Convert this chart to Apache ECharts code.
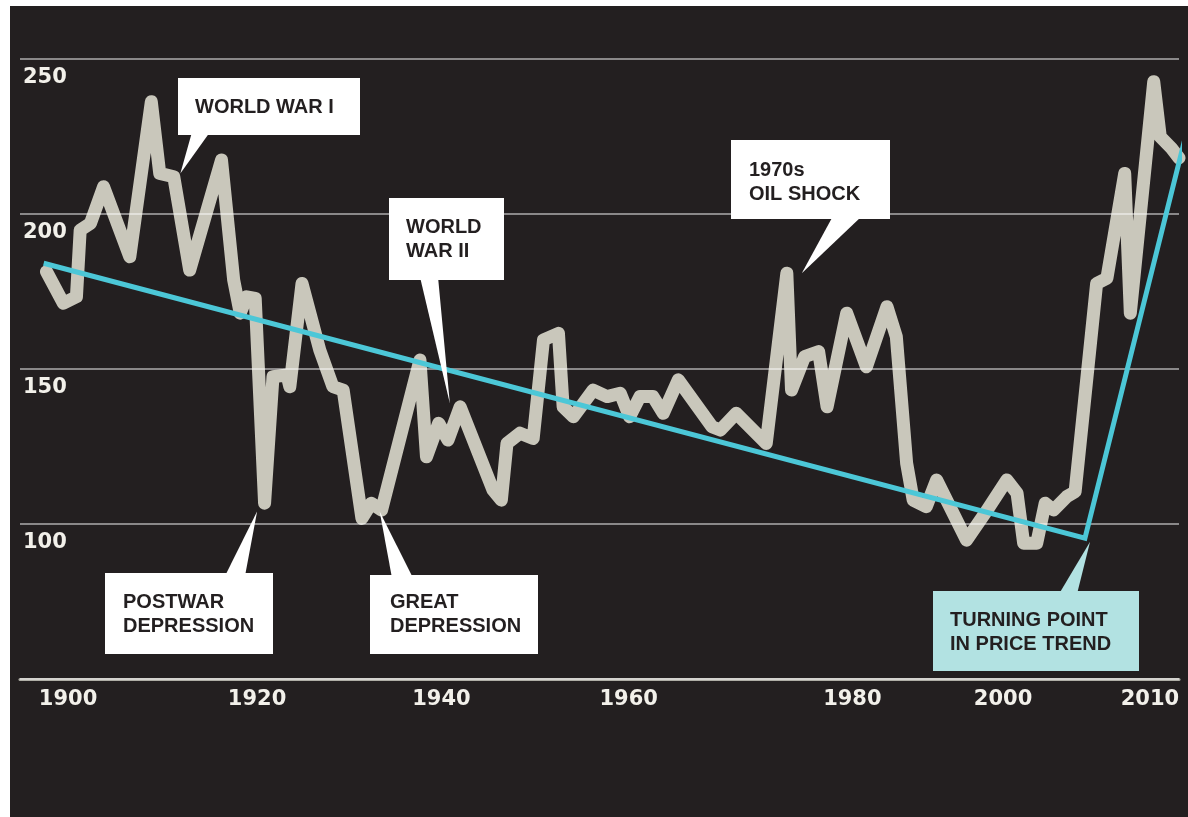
<!DOCTYPE html>
<html>
<head>
<meta charset="utf-8">
<script src="https://cdn.jsdelivr.net/npm/echarts@6/dist/echarts.min.js"></script>
<style>
  html, body { margin: 0; padding: 0; background: #ffffff; }
  #bg { position: absolute; left: 10px; top: 6px; right: 0; bottom: 0; background: #231f20; }
  #chart { position: absolute; left: 0; top: 0; width: 1188px; height: 817px; }
</style>
</head>
<body>
<div id="bg"></div>
<div id="chart"></div>
<script>
// ---- data ----
const years = [1897.7, 1899.5, 1900.9, 1901.3, 1902.4, 1903.8, 1906.6, 1908.9, 1909.8, 1911.3,
  1913.0, 1916.4, 1917.7, 1918.4, 1919.1, 1920.0, 1921.0, 1921.9, 1923.4, 1923.7,
  1925.0, 1926.9, 1928.3, 1929.4, 1931.4, 1932.4, 1933.5, 1937.6, 1938.3, 1939.6,
  1940.6, 1941.9, 1945.4, 1946.3, 1946.9, 1948.3, 1949.7, 1950.8, 1952.4, 1952.9,
  1954.0, 1956.1, 1957.6, 1959.0, 1960.0, 1961.1, 1962.5, 1963.6, 1965.2, 1968.8,
  1969.7, 1971.4, 1974.6, 1976.8, 1977.3, 1978.7, 1980.2, 1981.1, 1983.2, 1985.3,
  1987.5, 1988.5, 1989.6, 1990.3, 1991.7, 1992.8, 1996.0, 1998.2, 2000.3, 2001.4,
  2002.1, 2003.5, 2004.4, 2005.3, 2006.7, 2007.6, 2008.8, 2009.9, 2011.0, 2012.9,
  2013.5, 2016.0, 2016.7, 2017.9, 2018.7];
const prices = [181.4, 171.2, 173.3, 194.8, 197.0, 208.8, 186.2, 236.2, 213.1, 212.0,
  181.9, 217.4, 178.7, 168.0, 173.3, 172.8, 106.7, 147.5, 148.1, 144.3,
  177.6, 156.1, 144.3, 143.2, 101.8, 106.7, 104.5, 152.9, 121.7, 132.5,
  127.1, 137.8, 111.0, 107.7, 126.0, 129.3, 127.6, 159.4, 161.5, 137.8,
  134.6, 143.2, 141.1, 142.2, 134.6, 141.1, 141.1, 135.7, 146.5, 131.4,
  130.3, 135.7, 126.0, 180.9, 143.2, 154.0, 155.6, 137.8, 168.0, 150.7,
  170.1, 160.4, 119.6, 107.7, 105.6, 114.2, 94.8, 104.5, 114.2, 109.9,
  93.8, 93.8, 106.7, 104.5, 108.8, 110.4, 145.4, 177.6, 179.3, 213.1,
  168.0, 242.7, 224.9, 221.2, 218.1];
const trendYears = [1897.4, 2008.65, 2019.7];
const trendValues = [184.1, 95.4, 228.7];
const xTickLabels = ['1900', '1920', '1940', '1960', '1980', '2000', '2010'];
const xTickPositions = [1900, 1920.2, 1939.9, 1959.9, 1983.8, 1999.9, 2015.6];
const calloutTexts = ['WORLD WAR I', 'WORLD\nWAR II', '1970s\nOIL SHOCK', 'POSTWAR\nDEPRESSION', 'GREAT\nDEPRESSION', 'TURNING POINT\nIN PRICE TREND'];
const calloutAnchorYears = [1912.0, 1940.8, 1978.4, 1920.2, 1933.3, 2009.2];
const calloutAnchorValues = [213.1, 138.9, 180.9, 104.0, 104.0, 94.3];

// ---- layout / style of the callouts (pixels) ----
const calloutLayout = [
  { x: 178, y: 78,  w: 182, h: 57, base: [192, 210],   edgeY: 135, tx: 195, ty: 95,  fill: '#ffffff' },
  { x: 389, y: 198, w: 115, h: 82, base: [420, 438],   edgeY: 280, tx: 406, ty: 215, fill: '#ffffff' },
  { x: 731, y: 140, w: 159, h: 79, base: [833, 862],   edgeY: 219, tx: 749, ty: 158, fill: '#ffffff' },
  { x: 105, y: 573, w: 168, h: 81, base: [225, 245],   edgeY: 573, tx: 123, ty: 590, fill: '#ffffff' },
  { x: 370, y: 575, w: 168, h: 79, base: [392, 413],   edgeY: 575, tx: 390, ty: 590, fill: '#ffffff' },
  { x: 933, y: 591, w: 206, h: 80, base: [1059, 1077], edgeY: 591, tx: 950, ty: 608, fill: '#b2e2e2' }
];

const chart = echarts.init(document.getElementById('chart'), null, { renderer: 'canvas' });

const labelFont = { fontFamily: '"DejaVu Sans", sans-serif', fontWeight: 'bold', fontSize: 21, color: '#f2f0ea' };

chart.setOption({
  backgroundColor: 'transparent',
  animation: false,
  grid: { left: 20, right: 9, top: 59, bottom: 138, containLabel: false },
  xAxis: {
    type: 'value',
    min: 1894.87,
    max: 2018.7,
    axisLine: { show: true, lineStyle: { color: '#aeada5', width: 3 } },
    axisTick: { show: false },
    splitLine: { show: false },
    axisLabel: Object.assign({}, labelFont, {
      margin: 10,
      lineHeight: 21,
      customValues: xTickPositions,
      formatter: function (v) {
        let best = 0, bd = Infinity;
        xTickPositions.forEach(function (p, i) { const d = Math.abs(p - v); if (d < bd) { bd = d; best = i; } });
        return xTickLabels[best];
      }
    })
  },
  yAxis: {
    type: 'value',
    min: 50,
    max: 250,
    interval: 50,
    z: 3,
    axisLine: { show: false },
    axisTick: { show: false },
    splitLine: { show: true, lineStyle: { color: 'rgba(255,255,255,0.47)', width: 2 } },
    axisLabel: Object.assign({}, labelFont, {
      inside: true,
      margin: 3,
      align: 'left',
      verticalAlign: 'top',
      lineHeight: 21,
      padding: [8, 0, 0, 0],
      showMaxLabel: true,
      formatter: function (v) { return v === 50 ? '' : String(v); }
    })
  },
  series: [
    {
      name: 'Commodity index',
      type: 'line',
      z: 2,
      showSymbol: false,
      symbol: 'none',
      data: years.map(function (y, i) { return [y, prices[i]]; }),
      lineStyle: { color: '#c9c7bb', width: 13, join: 'round', cap: 'round' }
    },
    {
      name: 'Price trend',
      type: 'line',
      z: 5,
      clip: false,
      showSymbol: false,
      symbol: 'none',
      data: trendYears.map(function (y, i) { return [y, trendValues[i]]; }),
      lineStyle: { color: '#4cc7d7', width: 5, join: 'miter', cap: 'butt' }
    }
  ]
});

// callouts: pointer tip anchored to data coordinates
const graphics = [];
calloutTexts.forEach(function (txt, i) {
  const L = calloutLayout[i];
  const tip = chart.convertToPixel({ gridIndex: 0 }, [calloutAnchorYears[i], calloutAnchorValues[i]]);
  const inward = (L.edgeY === L.y) ? 3 : -3;
  graphics.push({
    type: 'polygon', z: 20,
    shape: { points: [[L.base[0], L.edgeY + inward], [L.base[1], L.edgeY + inward], tip] },
    style: { fill: L.fill }
  });
  graphics.push({
    type: 'rect', z: 21,
    shape: { x: L.x, y: L.y, width: L.w, height: L.h },
    style: { fill: L.fill }
  });
  graphics.push({
    type: 'text', z: 22,
    x: L.tx, y: L.ty,
    style: {
      text: txt,
      fill: '#231f20',
      fontFamily: '"Liberation Sans", Arial, sans-serif',
      fontWeight: 'bold',
      fontSize: 20,
      lineHeight: 24,
      verticalAlign: 'top',
      align: 'left'
    }
  });
});
chart.setOption({ graphic: graphics });
</script>
</body>
</html>
